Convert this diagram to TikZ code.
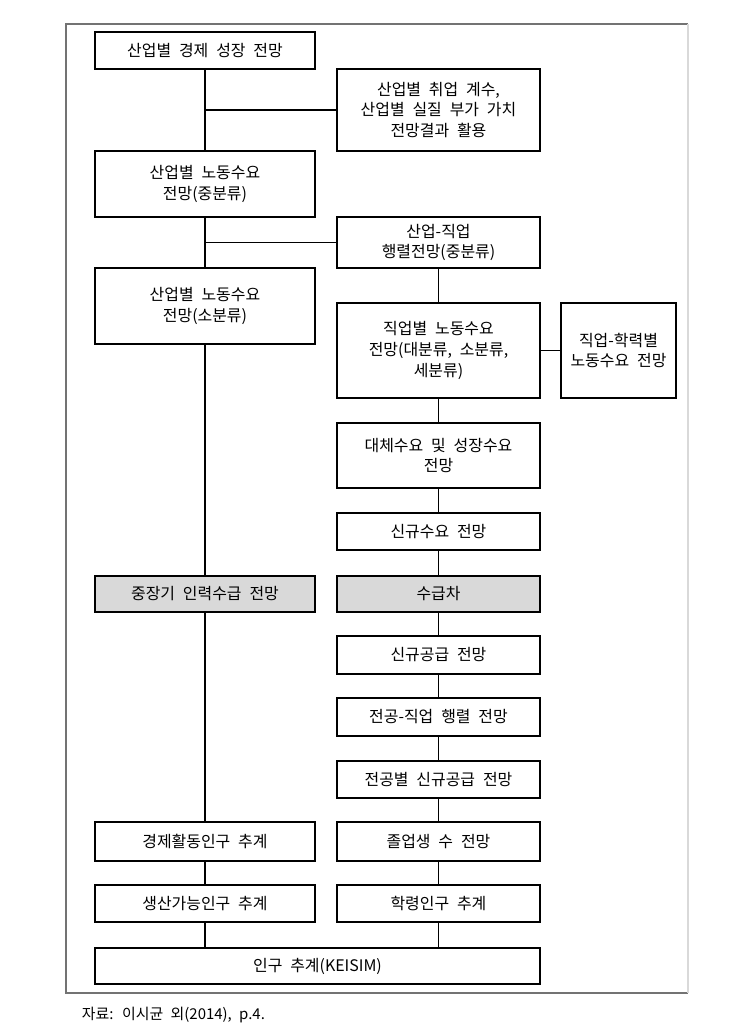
\documentclass[tikz,border=0pt]{standalone}
\usepackage{fontspec}
\setmainfont{Noto Sans CJK KR}[WordSpace=2.2]
\begin{document}
\begin{tikzpicture}[x=1bp, y=-1bp, line width=1.2bp,
	box/.style={draw, line width=1.3bp, inner sep=0pt, align=center, font=\fontsize{16}{21}\selectfont},
	wide/.style={box, minimum width=220bp},
	side/.style={box, minimum width=203bp},
	shade/.style={fill=black!15}]
		\useasboundingbox (0,0) rectangle (746,1032);
		\draw [black!55, line width=1.5bp] (688,24) -- (66,24) -- (66,993) -- (688,993);
		\draw [black!15, line width=1.5bp] (688,24) -- (688,993);

		\node [wide, minimum height=37bp] (grow) at (205,50.5) {산업별 경제 성장 전망};
		\node [side, minimum height=82bp] (coef) at (438.5,110) {산업별 취업 계수,\\산업별 실질 부가 가치\\전망결과 활용};
		\node [wide, minimum height=66bp] (indmid) at (205,184) {산업별 노동수요\\전망(중분류)};
		\node [side, minimum height=51bp] (matrix) at (438.5,242.5) {산업-직업\\행렬전망(중분류)};
		\node [wide, minimum height=76bp] (indsmall) at (205,306) {산업별 노동수요\\전망(소분류)};
		\node [side, minimum height=95bp] (occ) at (438.5,350.5) {직업별 노동수요\\전망(대분류, 소분류,\\세분류)};
		\node [box, minimum width=115bp, minimum height=95bp] (edu) at (618.5,350.5) {직업-학력별\\노동수요 전망};
		\node [side, minimum height=65bp] (repl) at (438.5,455.5) {대체수요 및 성장수요\\전망};
		\node [side, minimum height=37bp] (newdem) at (438.5,531.5) {신규수요 전망};
		\node [wide, shade, minimum height=36bp] (plan) at (205,594) {중장기 인력수급 전망};
		\node [side, shade, minimum height=36bp] (gap) at (438.5,594) {수급차};
		\node [side, minimum height=38bp] (newsup) at (438.5,655) {신규공급 전망};
		\node [side, minimum height=38bp] (major) at (438.5,717) {전공-직업 행렬 전망};
		\node [side, minimum height=37bp] (majsup) at (438.5,779.5) {전공별 신규공급 전망};
		\node [wide, minimum height=39bp] (active) at (205,841.5) {경제활동인구 추계};
		\node [side, minimum height=39bp] (grad) at (438.5,841.5) {졸업생 수 전망};
		\node [wide, minimum height=37bp] (workage) at (205,903.5) {생산가능인구 추계};
		\node [side, minimum height=37bp] (school) at (438.5,903.5) {학령인구 추계};
		\node [box, minimum width=445bp, minimum height=36bp] (pop) at (317.5,966) {인구 추계(KEISIM)};

		\draw [] (grow) to (indmid);
		\draw [] (grow.south |- coef.west) to (coef.west);
		\draw [] (indmid) to (indsmall);
		\draw [] (indmid.south |- matrix.west) to (matrix.west);
		\draw [] (matrix) to (occ);
		\draw [] (occ) to (edu);
		\draw [] (occ) to (repl);
		\draw [] (repl) to (newdem);
		\draw [] (newdem) to (gap);
		\draw [] (indsmall) to (plan);
		\draw [] (plan) to (active);
		\draw [] (gap) to (newsup);
		\draw [] (newsup) to (major);
		\draw [] (major) to (majsup);
		\draw [] (majsup) to (grad);
		\draw [] (active) to (workage);
		\draw [] (grad) to (school);
		\draw [] (workage.south) to (workage.south |- pop.north);
		\draw [] (school.south) to (school.south |- pop.north);
\node [anchor=west, font=\fontsize{15}{17}\selectfont] (src) at (78,1015) {자료: 이시균 외(2014), p.4.};
\end{tikzpicture}
\end{document}
